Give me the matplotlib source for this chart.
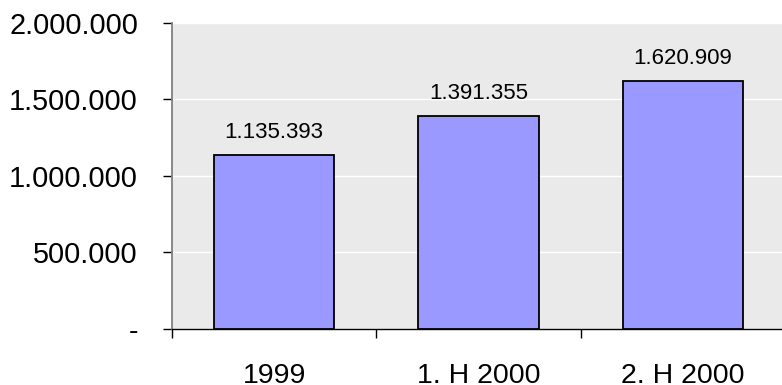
import matplotlib
matplotlib.use("Agg")
import matplotlib.pyplot as plt
from matplotlib.ticker import FixedLocator, FuncFormatter

categories = ["1999", "1. H 2000", "2. H 2000"]
values = [1135393, 1391355, 1620909]
y_ticks = [0, 500000, 1000000, 1500000, 2000000]

plt.rcParams["font.family"] = ["Liberation Sans", "DejaVu Sans"]


def de_format(v, pos=None):
    v = int(round(v))
    if v == 0:
        return "-"
    return f"{v:,}".replace(",", ".")


fig = plt.figure(figsize=(7.82, 3.85), dpi=100)
ax = fig.add_axes([172 / 782, 56 / 385, 613 / 782, 306.3 / 385])
ax.set_facecolor("#EAEAEA")

x = list(range(len(categories)))
bars = ax.bar(x, values, width=0.59, color="#9999FF", edgecolor="black",
              linewidth=1.3, zorder=3)

for xi, v in zip(x, values):
    ax.annotate(de_format(v), (xi, v), xytext=(0, 12), textcoords="offset points",
                ha="center", va="baseline", fontsize=16, color="black")

ax.set_xlim(-0.5, len(categories) - 0.5)
ax.set_ylim(0, 2000000)

ax.yaxis.set_major_locator(FixedLocator(y_ticks))
ax.yaxis.set_major_formatter(FuncFormatter(de_format))
ax.grid(axis="y", color="white", linewidth=1.0, zorder=1)
ax.set_axisbelow(True)

ax.set_xticks(x)
ax.set_xticklabels(categories)
ax.set_xticks([i - 0.5 for i in range(len(categories) + 1)], minor=True)
ax.tick_params(axis="x", which="major", length=0, pad=24.5, labelsize=20.5)
ax.tick_params(axis="x", which="minor", length=6.5, width=1, color="black")
ax.tick_params(axis="y", which="major", length=6.5, width=1, color="black",
               pad=18, labelsize=20.8)

for side in ("top", "right"):
    ax.spines[side].set_visible(False)
ax.spines["left"].set_color("#808080")
ax.spines["left"].set_linewidth(1.3)
ax.spines["bottom"].set_color("black")
ax.spines["bottom"].set_linewidth(1.0)

fig.savefig("out.png", dpi=100)
